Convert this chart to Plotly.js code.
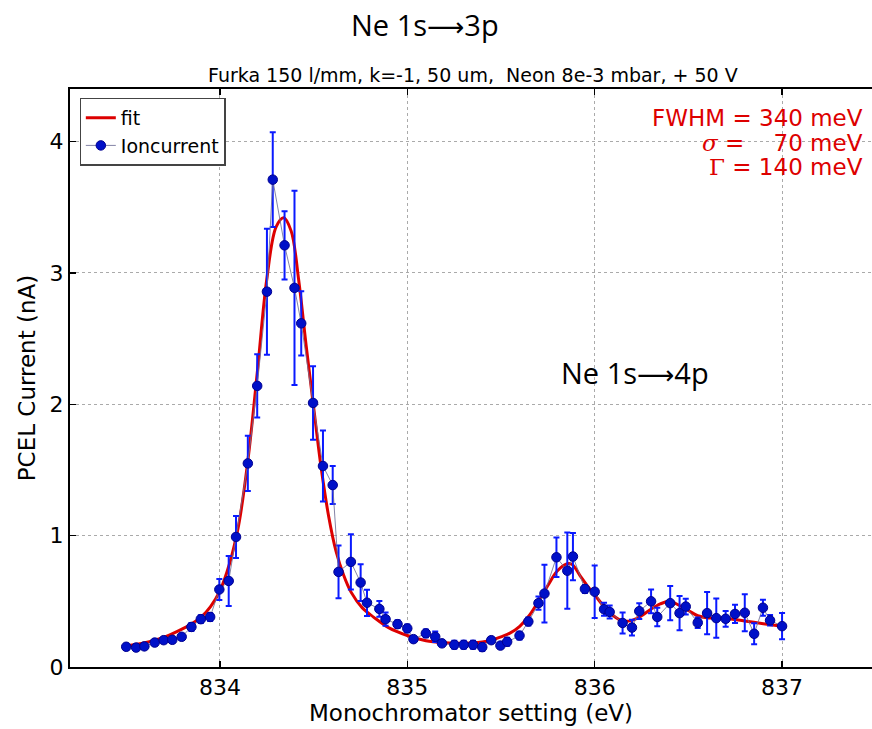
<!DOCTYPE html>
<html>
<head>
<meta charset="utf-8">
<script src="https://cdn.plot.ly/plotly-3.0.1.min.js"></script>
<style>html,body{margin:0;padding:0;background:#fff;}#chart{width:872px;height:729px;}</style>
</head>
<body>
<div id="chart"></div>
<script>
// Measured ion current (Ioncurrent)
const energy = [833.50,833.553,833.597,833.652,833.70,833.746,833.796,833.848,833.898,833.948,
  833.997,834.047,834.086,834.149,834.199,834.251,834.282,834.345,834.398,834.434,
  834.497,834.55,834.602,834.633,834.699,834.751,834.785,834.851,834.884,834.948,
  835.00,835.033,835.099,835.149,835.185,835.251,835.301,835.351,835.40,835.448,
  835.497,835.533,835.599,835.646,835.70,835.732,835.796,835.854,835.884,835.948,
  836.00,836.05,836.08,836.149,836.199,836.238,836.301,836.334,836.403,836.453,
  836.486,836.55,836.60,836.649,836.699,836.749,836.801,836.851,836.898,836.936,837.00];
const current = [0.154,0.148,0.157,0.186,0.204,0.207,0.23,0.305,0.364,0.381,
  0.59,0.655,0.99,1.55,2.14,2.857,3.71,3.21,2.886,2.616,
  2.01,1.53,1.385,0.724,0.80,0.643,0.489,0.442,0.364,0.326,
  0.294,0.212,0.256,0.23,0.18,0.169,0.169,0.169,0.151,0.204,
  0.163,0.192,0.239,0.346,0.486,0.559,0.835,0.733,0.841,0.594,
  0.573,0.44,0.419,0.335,0.30,0.425,0.50,0.381,0.486,0.41,
  0.46,0.337,0.41,0.372,0.367,0.404,0.413,0.253,0.451,0.355,0.311];
const currentErr = [0.02,0.02,0.02,0.02,0.02,0.02,0.02,0.03,0.03,0.03,
  0.08,0.19,0.16,0.21,0.24,0.48,0.36,0.26,0.74,0.245,
  0.28,0.27,0.145,0.20,0.21,0.14,0.10,0.06,0.05,0.03,
  0.03,0.02,0.03,0.04,0.02,0.03,0.03,0.03,0.03,0.02,
  0.02,0.03,0.03,0.03,0.05,0.22,0.15,0.29,0.18,0.03,
  0.20,0.05,0.05,0.08,0.06,0.06,0.09,0.07,0.13,0.13,
  0.06,0.04,0.16,0.15,0.06,0.07,0.14,0.08,0.06,0.04,0.10];

// Fit curve
const fitX = [833.50,833.60,833.70,833.80,833.85,833.90,833.95,834.00,834.05,834.10,
  834.15,834.20,834.25,834.30,834.34,834.38,834.42,834.46,834.50,834.54,
  834.58,834.62,834.66,834.70,834.76,834.82,834.90,835.00,835.10,835.20,
  835.30,835.40,835.45,835.50,835.55,835.60,835.65,835.70,835.75,835.80,
  835.85,835.88,835.92,835.96,836.00,836.05,836.10,836.15,836.20,836.25,
  836.30,836.35,836.40,836.45,836.50,836.55,836.60,836.70,836.80,836.90,837.00];
const fitY = [0.16,0.185,0.225,0.29,0.33,0.38,0.46,0.58,0.78,1.08,
  1.58,2.25,2.95,3.35,3.42,3.32,2.95,2.45,1.98,1.52,
  1.15,0.88,0.70,0.57,0.45,0.38,0.30,0.24,0.20,0.185,
  0.18,0.19,0.205,0.23,0.26,0.31,0.39,0.50,0.62,0.73,
  0.785,0.78,0.70,0.62,0.55,0.46,0.39,0.35,0.355,0.39,
  0.44,0.48,0.50,0.47,0.43,0.39,0.375,0.37,0.35,0.33,0.31];

const xTicks = [834,835,836,837];
const yTicks = [0,1,2,3,4];

const dv = 'DejaVu Sans, sans-serif';
const tickFont = {family:dv, size:22, color:'#000'};
const labelFont = {family:dv, size:23, color:'#000'};
const red = '#dd0000';
const arrow = '<span style="font-family:DejaVu Sans;font-size:26px">⟶</span>';

const traces = [
  {x: fitX, y: fitY, type:'scatter', mode:'lines', name:'fit', legendgroup:'a',
   line:{color:red, width:3, shape:'spline', smoothing:1}},
  {x: energy, y: current, type:'scatter', mode:'lines+markers', name:'Ioncurrent', legendgroup:'b',
   line:{color:'rgba(110,110,150,0.85)', width:1},
   marker:{color:'#0010c8', size:9.5, line:{color:'#000090', width:1}},
   error_y:{type:'data', array: currentErr, visible:true, color:'#0a1aff', thickness:2, width:3}}
];

const layout = {
  width:872, height:729,
  margin:{l:70, r:0, t:89, b:62},
  paper_bgcolor:'#fff', plot_bgcolor:'#fff',
  showlegend:true,
  legend:{x:0.012, y:0.985, xanchor:'left', yanchor:'top',
    bgcolor:'#fff', bordercolor:'#444', borderwidth:1.2,
    font:{family:dv, size:19, color:'#000'},
    tracegroupgap:0},
  xaxis:{range:[833.2,837.48], tickvals:xTicks, ticktext:xTicks.map(String),
    ticks:'inside', ticklen:6, tickwidth:1.5, tickcolor:'#000',
    showline:true, linecolor:'#000', linewidth:2, mirror:'ticks',
    showgrid:true, gridcolor:'#aaa', griddash:'dot', gridwidth:1, zeroline:false,
    tickfont:tickFont,
    title:{text:'Monochromator setting (eV)', font:labelFont, standoff:4}},
  yaxis:{range:[0,4.4], tickvals:yTicks, ticktext:yTicks.map(String),
    ticks:'inside', ticklen:6, tickwidth:1.5, tickcolor:'#000',
    showline:true, linecolor:'#000', linewidth:2, mirror:false,
    showgrid:true, gridcolor:'#aaa', griddash:'dot', gridwidth:1, zeroline:false,
    tickfont:tickFont,
    title:{text:'PCEL Current (nA)', font:labelFont, standoff:8}},
  annotations:[
    {xref:'paper', yref:'paper', x:0.443, y:1.111, yanchor:'middle', text:'Ne 1s' + arrow + '3p', showarrow:false,
     font:{family:'Open Sans, sans-serif', size:29, color:'#000'}},
    {xref:'paper', yref:'paper', x:0.502, y:1.025, yanchor:'middle', text:'Furka 150 l/mm, k=-1, 50 um,  Neon 8e-3 mbar, + 50 V', showarrow:false,
     font:{family:dv, size:19, color:'#000'}},
    {xref:'x', yref:'y', x:836.216, y:2.24, yanchor:'middle', text:'Ne 1s' + arrow + '4p', showarrow:false,
     font:{family:'Open Sans, sans-serif', size:29, color:'#000'}},
    {xref:'paper', yref:'paper', x:0.991, y:0.950, xanchor:'right', yanchor:'middle', text:'FWHM = 340 meV', showarrow:false,
     font:{family:dv, size:23, color:red}},
    {xref:'paper', yref:'paper', x:0.991, y:0.907, xanchor:'right', yanchor:'middle', text:'<span style="font-family:DejaVu Serif;font-style:italic">σ</span> =    70 meV', showarrow:false,
     font:{family:dv, size:23, color:red}},
    {xref:'paper', yref:'paper', x:0.991, y:0.865, xanchor:'right', yanchor:'middle', text:'<span style="font-family:DejaVu Serif">Γ</span> = 140 meV', showarrow:false,
     font:{family:dv, size:23, color:red}}
  ]
};

Plotly.newPlot('chart', traces, layout, {displayModeBar:false, staticPlot:true});
</script>
</body>
</html>
